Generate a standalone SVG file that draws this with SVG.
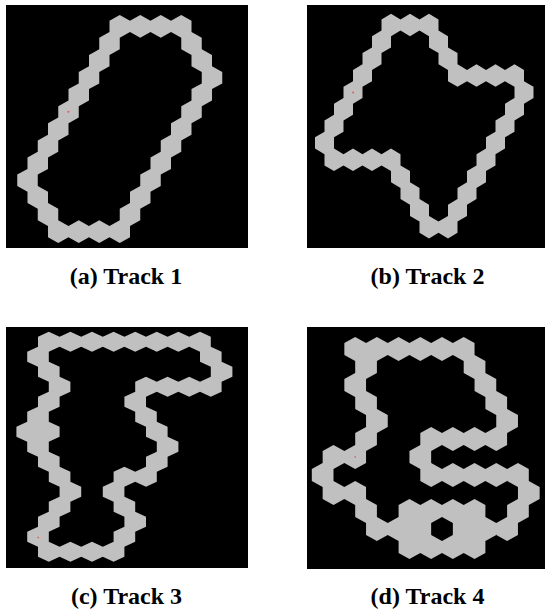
<svg xmlns="http://www.w3.org/2000/svg" width="545" height="612" viewBox="0 0 545 612">
<style>
.bg{fill:#000}
.trk{fill:#c0c0c0}
.cap{font-family:"Liberation Serif","Times New Roman",serif;font-weight:bold;font-size:24px;fill:#000;text-anchor:middle}
.dot{fill:#e05050}
</style>
<rect width="545" height="612" fill="#fff"/>

<g id="panel-a">
<rect class="bg" x="6" y="5" width="242" height="243"/>
<path class="trk" d="
M119.75,15l10.25,5.7v11.4l-10.25,5.7l-10.25,-5.7v-11.4z
M140.25,15l10.25,5.7v11.4l-10.25,5.7l-10.25,-5.7v-11.4z
M160.75,15l10.25,5.7v11.4l-10.25,5.7l-10.25,-5.7v-11.4z
M181.25,15l10.25,5.7v11.4l-10.25,5.7l-10.25,-5.7v-11.4z
M109.5,32.1l10.25,5.7v11.4l-10.25,5.7l-10.25,-5.7v-11.4z
M191.5,32.1l10.25,5.7v11.4l-10.25,5.7l-10.25,-5.7v-11.4z
M99.25,49.2l10.25,5.7v11.4l-10.25,5.7l-10.25,-5.7v-11.4z
M201.75,49.2l10.25,5.7v11.4l-10.25,5.7l-10.25,-5.7v-11.4z
M89,66.3l10.25,5.7v11.4l-10.25,5.7l-10.25,-5.7v-11.4z
M212,66.3l10.25,5.7v11.4l-10.25,5.7l-10.25,-5.7v-11.4z
M78.75,83.4l10.25,5.7v11.4l-10.25,5.7l-10.25,-5.7v-11.4z
M201.75,83.4l10.25,5.7v11.4l-10.25,5.7l-10.25,-5.7v-11.4z
M68.5,100.5l10.25,5.7v11.4l-10.25,5.7l-10.25,-5.7v-11.4z
M191.5,100.5l10.25,5.7v11.4l-10.25,5.7l-10.25,-5.7v-11.4z
M58.25,117.6l10.25,5.7v11.4l-10.25,5.7l-10.25,-5.7v-11.4z
M181.25,117.6l10.25,5.7v11.4l-10.25,5.7l-10.25,-5.7v-11.4z
M48,134.7l10.25,5.7v11.4l-10.25,5.7l-10.25,-5.7v-11.4z
M171,134.7l10.25,5.7v11.4l-10.25,5.7l-10.25,-5.7v-11.4z
M37.75,151.8l10.25,5.7v11.4l-10.25,5.7l-10.25,-5.7v-11.4z
M160.75,151.8l10.25,5.7v11.4l-10.25,5.7l-10.25,-5.7v-11.4z
M27.5,168.9l10.25,5.7v11.4l-10.25,5.7l-10.25,-5.7v-11.4z
M150.5,168.9l10.25,5.7v11.4l-10.25,5.7l-10.25,-5.7v-11.4z
M37.75,186l10.25,5.7v11.4l-10.25,5.7l-10.25,-5.7v-11.4z
M140.25,186l10.25,5.7v11.4l-10.25,5.7l-10.25,-5.7v-11.4z
M48,203.1l10.25,5.7v11.4l-10.25,5.7l-10.25,-5.7v-11.4z
M130,203.1l10.25,5.7v11.4l-10.25,5.7l-10.25,-5.7v-11.4z
M58.25,220.2l10.25,5.7v11.4l-10.25,5.7l-10.25,-5.7v-11.4z
M78.75,220.2l10.25,5.7v11.4l-10.25,5.7l-10.25,-5.7v-11.4z
M99.25,220.2l10.25,5.7v11.4l-10.25,5.7l-10.25,-5.7v-11.4z
M119.75,220.2l10.25,5.7v11.4l-10.25,5.7l-10.25,-5.7v-11.4z"/>
<rect class="dot" x="67.6" y="111" width="1.6" height="1.6"/>
</g>

<g id="panel-b">
<rect class="bg" x="307" y="5" width="238" height="243"/>
<path class="trk" d="
M391,13.77l9.5,5.62v11.23l-9.5,5.62l-9.5,-5.62v-11.23z
M410,13.77l9.5,5.62v11.23l-9.5,5.62l-9.5,-5.62v-11.23z
M429,13.77l9.5,5.62v11.23l-9.5,5.62l-9.5,-5.62v-11.23z
M381.5,30.62l9.5,5.62v11.23l-9.5,5.62l-9.5,-5.62v-11.23z
M438.5,30.62l9.5,5.62v11.23l-9.5,5.62l-9.5,-5.62v-11.23z
M372,47.47l9.5,5.62v11.23l-9.5,5.62l-9.5,-5.62v-11.23z
M448,47.47l9.5,5.62v11.23l-9.5,5.62l-9.5,-5.62v-11.23z
M362.5,64.32l9.5,5.62v11.23l-9.5,5.62l-9.5,-5.62v-11.23z
M457.5,64.32l9.5,5.62v11.23l-9.5,5.62l-9.5,-5.62v-11.23z
M476.5,64.32l9.5,5.62v11.23l-9.5,5.62l-9.5,-5.62v-11.23z
M495.5,64.32l9.5,5.62v11.23l-9.5,5.62l-9.5,-5.62v-11.23z
M514.5,64.32l9.5,5.62v11.23l-9.5,5.62l-9.5,-5.62v-11.23z
M353,81.17l9.5,5.62v11.23l-9.5,5.62l-9.5,-5.62v-11.23z
M524,81.17l9.5,5.62v11.23l-9.5,5.62l-9.5,-5.62v-11.23z
M343.5,98.02l9.5,5.62v11.23l-9.5,5.62l-9.5,-5.62v-11.23z
M514.5,98.02l9.5,5.62v11.23l-9.5,5.62l-9.5,-5.62v-11.23z
M334,114.87l9.5,5.62v11.23l-9.5,5.62l-9.5,-5.62v-11.23z
M505,114.87l9.5,5.62v11.23l-9.5,5.62l-9.5,-5.62v-11.23z
M324.5,131.72l9.5,5.62v11.23l-9.5,5.62l-9.5,-5.62v-11.23z
M495.5,131.72l9.5,5.62v11.23l-9.5,5.62l-9.5,-5.62v-11.23z
M334,148.57l9.5,5.62v11.23l-9.5,5.62l-9.5,-5.62v-11.23z
M353,148.57l9.5,5.62v11.23l-9.5,5.62l-9.5,-5.62v-11.23z
M372,148.57l9.5,5.62v11.23l-9.5,5.62l-9.5,-5.62v-11.23z
M391,148.57l9.5,5.62v11.23l-9.5,5.62l-9.5,-5.62v-11.23z
M486,148.57l9.5,5.62v11.23l-9.5,5.62l-9.5,-5.62v-11.23z
M400.5,165.42l9.5,5.62v11.23l-9.5,5.62l-9.5,-5.62v-11.23z
M476.5,165.42l9.5,5.62v11.23l-9.5,5.62l-9.5,-5.62v-11.23z
M410,182.27l9.5,5.62v11.23l-9.5,5.62l-9.5,-5.62v-11.23z
M467,182.27l9.5,5.62v11.23l-9.5,5.62l-9.5,-5.62v-11.23z
M419.5,199.12l9.5,5.62v11.23l-9.5,5.62l-9.5,-5.62v-11.23z
M457.5,199.12l9.5,5.62v11.23l-9.5,5.62l-9.5,-5.62v-11.23z
M429,215.97l9.5,5.62v11.23l-9.5,5.62l-9.5,-5.62v-11.23z
M448,215.97l9.5,5.62v11.23l-9.5,5.62l-9.5,-5.62v-11.23z"/>
<rect class="dot" x="352.3" y="91.7" width="1.6" height="1.6"/>
</g>

<g id="panel-c">
<rect class="bg" x="6" y="327" width="242" height="241"/>
<path class="trk" d="
M48.8,331.7l10.8,5v10l-10.8,5l-10.8,-5v-10z
M70.4,331.7l10.8,5v10l-10.8,5l-10.8,-5v-10z
M92,331.7l10.8,5v10l-10.8,5l-10.8,-5v-10z
M113.6,331.7l10.8,5v10l-10.8,5l-10.8,-5v-10z
M135.2,331.7l10.8,5v10l-10.8,5l-10.8,-5v-10z
M156.8,331.7l10.8,5v10l-10.8,5l-10.8,-5v-10z
M178.4,331.7l10.8,5v10l-10.8,5l-10.8,-5v-10z
M200,331.7l10.8,5v10l-10.8,5l-10.8,-5v-10z
M38,346.7l10.8,5v10l-10.8,5l-10.8,-5v-10z
M210.8,346.7l10.8,5v10l-10.8,5l-10.8,-5v-10z
M48.8,361.7l10.8,5v10l-10.8,5l-10.8,-5v-10z
M221.6,361.7l10.8,5v10l-10.8,5l-10.8,-5v-10z
M59.6,376.7l10.8,5v10l-10.8,5l-10.8,-5v-10z
M146,376.7l10.8,5v10l-10.8,5l-10.8,-5v-10z
M167.6,376.7l10.8,5v10l-10.8,5l-10.8,-5v-10z
M189.2,376.7l10.8,5v10l-10.8,5l-10.8,-5v-10z
M210.8,376.7l10.8,5v10l-10.8,5l-10.8,-5v-10z
M48.8,391.7l10.8,5v10l-10.8,5l-10.8,-5v-10z
M135.2,391.7l10.8,5v10l-10.8,5l-10.8,-5v-10z
M38,406.7l10.8,5v10l-10.8,5l-10.8,-5v-10z
M146,406.7l10.8,5v10l-10.8,5l-10.8,-5v-10z
M27.2,421.7l10.8,5v10l-10.8,5l-10.8,-5v-10z
M48.8,421.7l10.8,5v10l-10.8,5l-10.8,-5v-10z
M156.8,421.7l10.8,5v10l-10.8,5l-10.8,-5v-10z
M38,436.7l10.8,5v10l-10.8,5l-10.8,-5v-10z
M167.6,436.7l10.8,5v10l-10.8,5l-10.8,-5v-10z
M48.8,451.7l10.8,5v10l-10.8,5l-10.8,-5v-10z
M156.8,451.7l10.8,5v10l-10.8,5l-10.8,-5v-10z
M59.6,466.7l10.8,5v10l-10.8,5l-10.8,-5v-10z
M124.4,466.7l10.8,5v10l-10.8,5l-10.8,-5v-10z
M146,466.7l10.8,5v10l-10.8,5l-10.8,-5v-10z
M70.4,481.7l10.8,5v10l-10.8,5l-10.8,-5v-10z
M113.6,481.7l10.8,5v10l-10.8,5l-10.8,-5v-10z
M59.6,496.7l10.8,5v10l-10.8,5l-10.8,-5v-10z
M124.4,496.7l10.8,5v10l-10.8,5l-10.8,-5v-10z
M48.8,511.7l10.8,5v10l-10.8,5l-10.8,-5v-10z
M135.2,511.7l10.8,5v10l-10.8,5l-10.8,-5v-10z
M38,526.7l10.8,5v10l-10.8,5l-10.8,-5v-10z
M124.4,526.7l10.8,5v10l-10.8,5l-10.8,-5v-10z
M48.8,541.7l10.8,5v10l-10.8,5l-10.8,-5v-10z
M70.4,541.7l10.8,5v10l-10.8,5l-10.8,-5v-10z
M92,541.7l10.8,5v10l-10.8,5l-10.8,-5v-10z
M113.6,541.7l10.8,5v10l-10.8,5l-10.8,-5v-10z"/>
<rect class="dot" x="37.5" y="536.8" width="1.4" height="1.4"/>
</g>

<g id="panel-d">
<rect class="bg" x="307" y="327" width="238" height="242"/>
<path class="trk" d="
M355.2,337l10.85,6v12l-10.85,6l-10.85,-6v-12z
M376.9,337l10.85,6v12l-10.85,6l-10.85,-6v-12z
M398.6,337l10.85,6v12l-10.85,6l-10.85,-6v-12z
M420.3,337l10.85,6v12l-10.85,6l-10.85,-6v-12z
M442,337l10.85,6v12l-10.85,6l-10.85,-6v-12z
M463.7,337l10.85,6v12l-10.85,6l-10.85,-6v-12z
M366.05,355l10.85,6v12l-10.85,6l-10.85,-6v-12z
M474.55,355l10.85,6v12l-10.85,6l-10.85,-6v-12z
M355.2,373l10.85,6v12l-10.85,6l-10.85,-6v-12z
M485.4,373l10.85,6v12l-10.85,6l-10.85,-6v-12z
M366.05,391l10.85,6v12l-10.85,6l-10.85,-6v-12z
M496.25,391l10.85,6v12l-10.85,6l-10.85,-6v-12z
M376.9,409l10.85,6v12l-10.85,6l-10.85,-6v-12z
M507.1,409l10.85,6v12l-10.85,6l-10.85,-6v-12z
M366.05,427l10.85,6v12l-10.85,6l-10.85,-6v-12z
M431.15,427l10.85,6v12l-10.85,6l-10.85,-6v-12z
M452.85,427l10.85,6v12l-10.85,6l-10.85,-6v-12z
M474.55,427l10.85,6v12l-10.85,6l-10.85,-6v-12z
M496.25,427l10.85,6v12l-10.85,6l-10.85,-6v-12z
M333.5,445l10.85,6v12l-10.85,6l-10.85,-6v-12z
M355.2,445l10.85,6v12l-10.85,6l-10.85,-6v-12z
M420.3,445l10.85,6v12l-10.85,6l-10.85,-6v-12z
M322.65,463l10.85,6v12l-10.85,6l-10.85,-6v-12z
M431.15,463l10.85,6v12l-10.85,6l-10.85,-6v-12z
M452.85,463l10.85,6v12l-10.85,6l-10.85,-6v-12z
M474.55,463l10.85,6v12l-10.85,6l-10.85,-6v-12z
M496.25,463l10.85,6v12l-10.85,6l-10.85,-6v-12z
M517.95,463l10.85,6v12l-10.85,6l-10.85,-6v-12z
M333.5,481l10.85,6v12l-10.85,6l-10.85,-6v-12z
M355.2,481l10.85,6v12l-10.85,6l-10.85,-6v-12z
M528.8,481l10.85,6v12l-10.85,6l-10.85,-6v-12z
M366.05,499l10.85,6v12l-10.85,6l-10.85,-6v-12z
M409.45,499l10.85,6v12l-10.85,6l-10.85,-6v-12z
M431.15,499l10.85,6v12l-10.85,6l-10.85,-6v-12z
M452.85,499l10.85,6v12l-10.85,6l-10.85,-6v-12z
M474.55,499l10.85,6v12l-10.85,6l-10.85,-6v-12z
M517.95,499l10.85,6v12l-10.85,6l-10.85,-6v-12z
M376.9,517l10.85,6v12l-10.85,6l-10.85,-6v-12z
M398.6,517l10.85,6v12l-10.85,6l-10.85,-6v-12z
M420.3,517l10.85,6v12l-10.85,6l-10.85,-6v-12z
M463.7,517l10.85,6v12l-10.85,6l-10.85,-6v-12z
M485.4,517l10.85,6v12l-10.85,6l-10.85,-6v-12z
M507.1,517l10.85,6v12l-10.85,6l-10.85,-6v-12z
M409.45,535l10.85,6v12l-10.85,6l-10.85,-6v-12z
M431.15,535l10.85,6v12l-10.85,6l-10.85,-6v-12z
M452.85,535l10.85,6v12l-10.85,6l-10.85,-6v-12z
M474.55,535l10.85,6v12l-10.85,6l-10.85,-6v-12z"/>
<rect class="dot" x="354.5" y="456.3" width="1.4" height="1.4"/>
</g>

<g id="captions">
<text class="cap" x="126" y="284">(a) Track 1</text>
<text class="cap" x="427.5" y="284">(b) Track 2</text>
<text class="cap" x="126.5" y="604">(c) Track 3</text>
<text class="cap" x="427.5" y="604">(d) Track 4</text>
</g>
</svg>
